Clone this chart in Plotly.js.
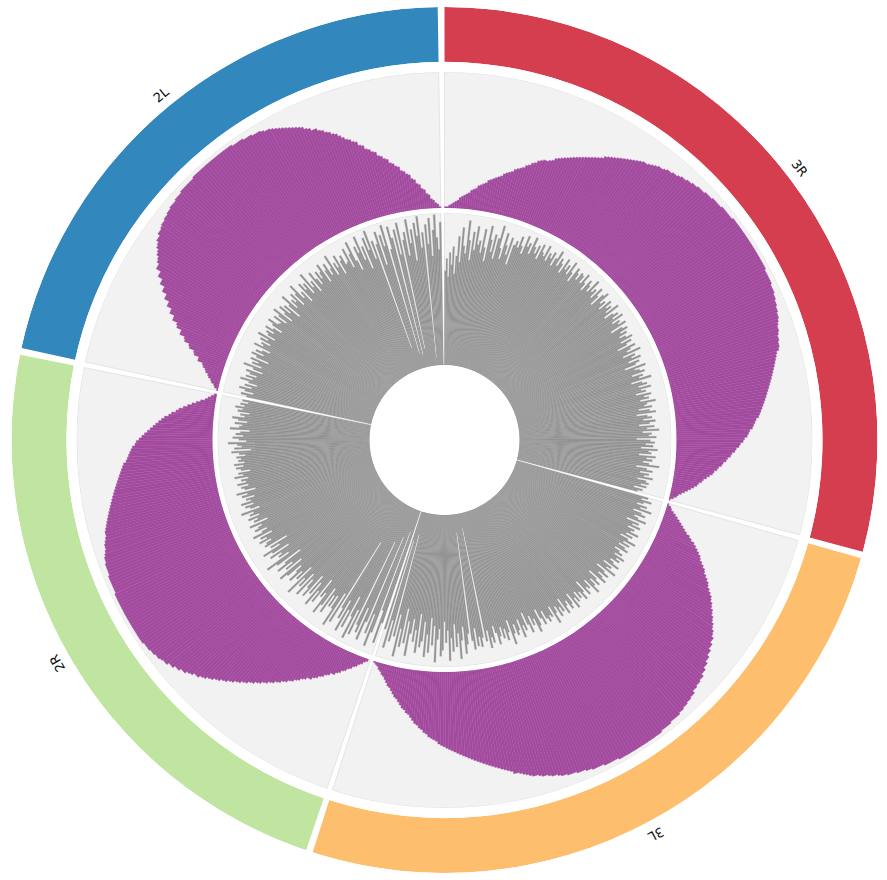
<!DOCTYPE html>
<html><head><meta charset="utf-8">
<script src="https://cdn.plot.ly/plotly-3.0.1.min.js"></script>
<style>html,body{margin:0;padding:0;background:#fff}</style>
</head><body><div id="chart" style="width:887px;height:880px"></div>
<script>
// ---- data ----
const chromosomes = ['3R', '3L', '2R', '2L'];
const chromLengthMb = [32.1, 28.1, 25.3, 23.5];
const chromColors = ['#d53e4f', '#fdbe6e', '#bfe5a0', '#3288bd'];

// purple track (percent of track height), one value per bin along each chromosome
const purple3R = [1,1,2,3,4,5,6,8,9,10, 11,12,14,15,16,18,19,20,21,23, 24,25,26,27,28,30,31,32,33,35,
  36,37,38,40,41,43,44,46,47,48, 48,49,50,52,53,54,55,56,57,58, 59,60,61,62,63,64,65,66,67,69,
  70,71,72,73,74,75,76,77,78,79, 80,81,81,82,83,84,85,85,86,87, 87,88,88,89,90,90,91,91,92,92,
  93,93,93,94,94,94,95,95,95,95, 96,96,96,96,96,97,97,97,97,97, 97,97,97,97,97,97,97,97,97,97,
  97,97,97,97,96,96,96,96,96,95, 95,95,94,94,93,93,92,92,91,91, 90,89,88,88,87,86,86,85,85,84,
  82,81,80,79,78,77,76,75,74,73, 72,71,70,69,68,67,66,65,64,63, 62,61,59,58,57,56,54,53,52,50,
  49,47,46,44,43,41,40,38,37,35, 34,32,31,29,28,26,24,22,21,19, 18,16,14,12,10,8,6,5,3,1];
const purple3L = [1,3,4,6,8,10,12,14,16,18,20,23,25,28,30,32,34,36,37,39,
  41,43,44,46,48,50,51,53,55,57,58,60,61,63,64,66,67,69,70,72,
  73,75,75,77,77,79,79,81,81,83,83,85,85,87,87,88,88,89,89,91,
  91,92,92,93,93,94,94,95,95,95,95,96,96,96,96,97,97,97,97,97,
  97,97,97,97,97,97,97,97,97,97,97,96,96,96,96,96,95,95,95,95,
  94,94,93,93,93,92,92,92,91,91,90,89,89,88,87,87,86,85,85,84,
  83,82,81,80,80,78,77,76,75,74,73,72,71,70,69,68,67,66,65,64,
  63,62,61,60,59,58,57,56,55,54,53,51,50,49,48,46,45,43,42,40,
  39,37,35,33,32,30,29,27,25,23,22,20,18,16,15,13,11,9,8,6,
  5,3,2,1];
const purple2R = [0,2,3,5,6,8,9,11,12,14,15,17,18,20,20,22,23,25,26,28,
  29,31,31,33,34,36,37,39,40,42,43,45,46,48,49,51,52,54,55,57,
  58,60,61,63,64,66,67,69,70,72,73,75,76,78,79,81,81,83,84,86,
  86,88,88,90,90,92,92,93,94,94,95,95,96,96,96,97,97,97,97,97,
  97,97,97,97,97,97,97,97,97,97,97,97,97,96,96,96,96,96,96,95,
  95,95,95,94,94,93,92,91,91,90,89,88,88,87,86,85,84,83,82,81,
  80,79,78,77,76,75,74,73,72,71,70,69,68,67,66,64,63,62,61,60,
  59,57,56,54,52,50,48,46,44,42,40,38,36,33,31,28,26,23,20,17,
  14,11,8,6,4,2];
const purple2L = [1,3,4,6,7,9,10,12,13,15,16,20,20,24,25,29,30,34,35,39,
  39,43,44,48,48,52,52,56,56,60,60,64,64,68,68,72,72,76,76,78,
  79,81,82,84,85,87,87,89,89,90,91,91,92,92,93,93,94,94,94,95,
  95,95,96,96,96,96,96,96,97,97,97,97,97,97,97,97,97,97,97,97,
  97,97,97,97,96,96,96,96,95,95,95,94,94,94,93,92,92,91,90,89,
  88,87,86,85,84,83,82,80,79,77,77,75,74,72,71,69,68,66,64,62,
  61,59,58,55,54,51,50,48,47,44,43,41,40,37,36,34,33,30,29,27,
  26,23,22,19,18,15,14,11,10,7,6,4,3,1];

// gray histogram track (percent of track height)
const gray3R = [62,70,58,74,66,78,60,72,85,68,91,79,74,96,83,70,89,77,93,81,
  84,76,92,80,71,95,86,78,90,74,88,97,82,75,93,85,79,91,73,87,
  90,86,94,88,83,96,89,92,85,97,91,87,93,84,95,90,88,96,86,92, 89,94,85,91,97,87,93,90,84,95,88,92,86,96,89,83,94,91,87,93,
  92,87,95,89,84,93,90,86,96,88,91,85,94,89,82,92,95,87,90,84, 93,88,91,86,95,83,89,92,87,94,85,90,88,93,81,89,92,86,90,84,
  88,92,83,90,86,79,91,87,84,93,80,88,85,91,82,89,86,78,92,84, 87,90,81,88,85,93,79,86,89,83,91,84,87,80,90,85,88,82,92,86,
  84,89,80,87,91,78,85,88,82,90,86,79,89,84,92,81,87,85,90,77, 86,89,83,88,80,91,85,87,79,90,84,88,82,86,93,78,85,89,81,87, 84,90,80,86,88,83,87,79,85,82];
const gray3L = [90,86,93,88,84,91,87,95,83,89,92,85,88,94,81,90,86,92,84,89, 87,93,85,90,82,88,94,86,91,84,89,92,83,87,90,85,93,88,
  91,85,88,93,82,89,86,94,80,87,91,84,88,92,79,86,90,83,88,93, 81,87,85,90,78,86,91,84,88,82,89,85,92,80,87,90,83,86,91,79, 88,84,90,82,86,93,80,87,85,89,
  86,80,89,84,77,88,92,82,86,79,90,84,75,87,83,91,78,85,88,80, 86,93,76,84,89,81,87,79,85,90,82,77,88,84,91,79,86,10,83,89,
  82,88,76,90,84,12,79,86,92,74,83,95,78,87,72,90,81,96,76,84, 70,89,93,75,82,97,73,86,68,91,79,94,71,84,88,66,92,77,85,70, 80,95,72,87,64,90,78,97,69,84,15,88,74,93,20,81];
const gray2R = [78,92,70,15,86,96,74,88,20,81,94,72,90,85,25,93,76,97,82,68,91,79,95,73,87,80,30,92,71,96,84,75,
  84,76,90,72,86,93,78,82,69,88,80,92,75,85,71,89,83,77,91,74, 86,80,94,72,84,78,88,81,76,87,92,73,85,79,90,83,70,88,95,77, 84,81,89,74,86,92,79,85,72,88,
  86,82,90,84,88,79,92,85,81,89,86,83,91,78,87,84,90,82,88,85, 93,80,86,89,83,91,84,87,81,89,85,92,79,86,88,83,90,84,87,82,
  91,85,88,80,86,89,84,90,83,87,85,88,82,86,91,78,89,84,87,93, 81,86,90,83,88,85,79,92,86,84,89,81,87,91,83,86,80,88,85,90, 84,87,82,86];
const gray2L = [84,88,80,86,90,82,87,79,85,91,83,88,81,86,89,78,85,92,80,87, 83,89,77,86,90,82,88,84,79,91,85,87,81,89,84,92,80,86,88,83, 90,85,79,87,91,84,
  83,89,80,87,92,78,85,90,82,88,76,86,93,81,87,84,90,79,88,94, 82,86,77,91,85,89,80,95,83,87,78,92,86,81,90,84,88,93,79,87, 91,82,86,95,80,88,84,92,78,87,90,83,
  84,93,79,88,96,82,75,91,86,97,80,89,73,94,85,98,78,90,15,87, 95,72,92,84,98,10,81,96,88,8,93,76,97,12,85,90,74,98,82,91, 70,95,86,99,78,88,5,93,80,97,72,89,99,84,76,94];

const purpleData = [purple3R, purple3L, purple2R, purple2L];
const grayData = [gray3R, gray3L, gray2R, gray2L];

// ---- geometry ----
const W = 887, H = 880, CX = 444.5, CY = 440;
const GAP = 0.9;
const total = chromLengthMb.reduce((a, b) => a + b, 0);
const degPerMb = (360 - GAP * chromosomes.length) / total;
const starts = [], spans = [];
let acc = 0;
chromLengthMb.forEach(L => { starts.push(acc); spans.push(L * degPerMb); acc += L * degPerMb + GAP; });
const centers = starts.map((s, i) => s + spans[i] / 2);

function dom(R) { return { x: [(CX - R) / W, (CX + R) / W], y: [(H - CY - R) / H, (H - CY + R) / H] }; }

function binTrace(arrs, sub, color, widthFrac, line) {
  const th = [], r = [], w = [];
  arrs.forEach((arr, c) => {
    const step = spans[c] / arr.length;
    arr.forEach((v, i) => { th.push(starts[c] + (i + 0.5) * step); r.push(v); w.push(step * widthFrac); });
  });
  return { type: 'barpolar', subplot: sub, theta: th, r: r, width: w,
    marker: { color: color, line: line || { width: 0 } }, hoverinfo: 'skip', showlegend: false };
}

const traces = [];
// outer ideogram ring
traces.push({ type: 'barpolar', subplot: 'polar', theta: centers, r: chromosomes.map(() => 1), width: spans,
  marker: { color: chromColors, line: { width: 0 } }, hoverinfo: 'skip', showlegend: false });
// track backgrounds
['polar2', 'polar3'].forEach(sp => traces.push({ type: 'barpolar', subplot: sp, theta: centers,
  r: chromosomes.map(() => 100), width: spans,
  marker: { color: '#f2f2f2', line: { color: '#dedede', width: 0.8 } }, hoverinfo: 'skip', showlegend: false }));
traces.push(binTrace(purpleData, 'polar2', '#a34b9f', 1, { color: '#a34b9f', width: 0.4 }));
traces.push(binTrace(grayData, 'polar3', '#959595', 1, { color: '#959595', width: 0.2 }));

function polarCfg(R, hole, range) {
  return {
    domain: dom(R), hole: hole, bgcolor: 'rgba(0,0,0,0)', barmode: 'overlay',
    angularaxis: { rotation: 90, direction: 'clockwise', showline: false, showgrid: false,
      showticklabels: false, ticks: '' },
    radialaxis: { visible: false, range: range }
  };
}

const LABEL_R = 447;
const annotations = chromosomes.map((name, i) => {
  const a = centers[i] * Math.PI / 180;
  const px = CX + LABEL_R * Math.sin(a), py = CY - LABEL_R * Math.cos(a);
  return { text: name, x: px / W, y: 1 - py / H, xref: 'paper', yref: 'paper', showarrow: false,
    xanchor: 'center', yanchor: 'middle', textangle: centers[i] > 180 ? centers[i] - 360 : centers[i],
    font: { family: 'DejaVu Sans, sans-serif', size: 13, color: '#111' } };
});

const layout = {
  width: W, height: H, margin: { l: 0, r: 0, t: 0, b: 0 }, paper_bgcolor: '#fff',
  showlegend: false,
  polar: polarCfg(433, 378 / 433, [0, 1]),
  polar2: polarCfg(368, 232 / 368, [0, 100]),
  polar3: polarCfg(227, 75 / 227, [0, 100]),
  annotations: annotations
};

Plotly.newPlot('chart', traces, layout, { displayModeBar: false, staticPlot: true });
</script></body></html>
